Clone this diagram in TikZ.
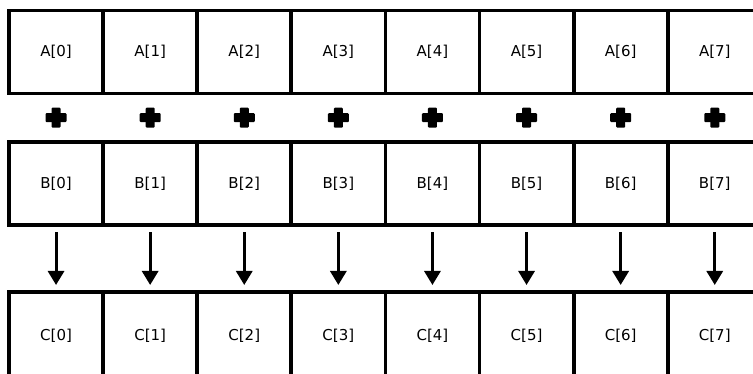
\documentclass[tikz,border=0pt]{standalone}
\usepackage{fontspec}
\setmainfont{DejaVu Sans}
\usetikzlibrary{arrows.meta,calc}
\begin{document}
\begin{tikzpicture}[x=1pt,y=-1pt,
  cell/.style={draw=black, line width=3.8pt, minimum width=94.1pt,
    inner sep=0pt, outer sep=0pt, anchor=north west,
    font=\fontsize{15}{18}\selectfont},
  plusbar/.style={fill=black, rounded corners=1pt},
  flow/.style={-{Triangle[width=16pt,length=14pt]}, line width=3pt,
    shorten <=7pt, shorten >=7pt}]
\useasboundingbox (0,0) rectangle (753,374);
\clip (0,0) rectangle (753,374);
\foreach \i in {0,...,7}{
  % the three rows of array cells
  \node[cell, minimum height=83pt]   (a\i) at (9+94.1*\i, 10.5)  {A[\i]};
  \node[cell, minimum height=83.5pt] (b\i) at (9+94.1*\i, 141.8) {B[\i]};
  \node[cell, minimum height=88pt]   (c\i) at (9+94.1*\i, 292)   {C[\i]};
  % plus sign between A and B
  \coordinate (p\i) at ($(a\i.south)!0.5!(b\i.north)$);
  \begin{scope}[shift={(p\i)}]
    \fill[plusbar] (-10.5,-4.5) rectangle (10.5,4.5);
    \fill[plusbar] (-4.5,-10) rectangle (4.5,10);
  \end{scope}
  % result arrow from B to C
  \draw[flow] (b\i) -- (c\i);
}
\end{tikzpicture}
\end{document}
